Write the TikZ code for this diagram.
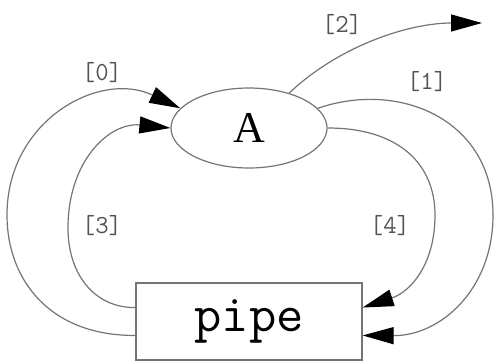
\documentclass[tikz,border=0pt]{standalone}
\usepackage{fontspec}
\setmainfont{Liberation Serif}
\usetikzlibrary{arrows.meta,shapes.geometric}
\definecolor{edgegray}{HTML}{747474}
\definecolor{labgray}{HTML}{555555}
\tikzset{
  edge/.style={draw=edgegray, line width=1.2pt},
  arr/.style={edge, -{Triangle[length=31pt,width=17pt,color=black,fill=black]}},
  lab/.style={font=\ttfamily\fontsize{26}{28}\selectfont, text=labgray, inner sep=0pt},
}
\begin{document}
\begin{tikzpicture}[x=1pt,y=-1pt]
\useasboundingbox (0,0) rectangle (495,362);
\node[ellipse, draw=edgegray, line width=1.2pt, minimum width=156pt, minimum height=80pt, inner sep=0pt,
  font=\fontsize{44}{46}\selectfont] (A) at (249,128) {A};
\node[rectangle, draw=edgegray, line width=1.2pt, minimum width=226pt, minimum height=77pt, inner sep=0pt,
  font=\ttfamily\fontsize{53}{55}\selectfont] (pipe) at (249,321.5) {pipe};
\coordinate (out) at (482,23);
% [0]
\draw[arr] (pipe.187) .. controls (50,336) and (7,280) .. (7,215) .. controls (7,120) and (100,70) .. (A.164);
% [3]
\draw[arr] (pipe.173) .. controls (95,308) and (68,275) .. (68,228) .. controls (68,160) and (110,122) .. (A.west);
% [1]
\draw[arr] (A.16) .. controls (400,80) and (493,120) .. (493,215) .. controls (493,290) and (440,336) .. (pipe.353);
% [4]
\draw[arr] (A.east) .. controls (400,128) and (435,165) .. (435,215) .. controls (435,265) and (410,292) .. (pipe.7);
% [2]
\draw[arr] (A.41) .. controls (340,45) and (410,23) .. (out);
\node[lab] (l0) at (102,73) {[0]};
\node[lab] (l2) at (342,25) {[2]};
\node[lab] (l1) at (427,82) {[1]};
\node[lab] (l3) at (102,226) {[3]};
\node[lab] (l4) at (390,226) {[4]};
\end{tikzpicture}
\end{document}
